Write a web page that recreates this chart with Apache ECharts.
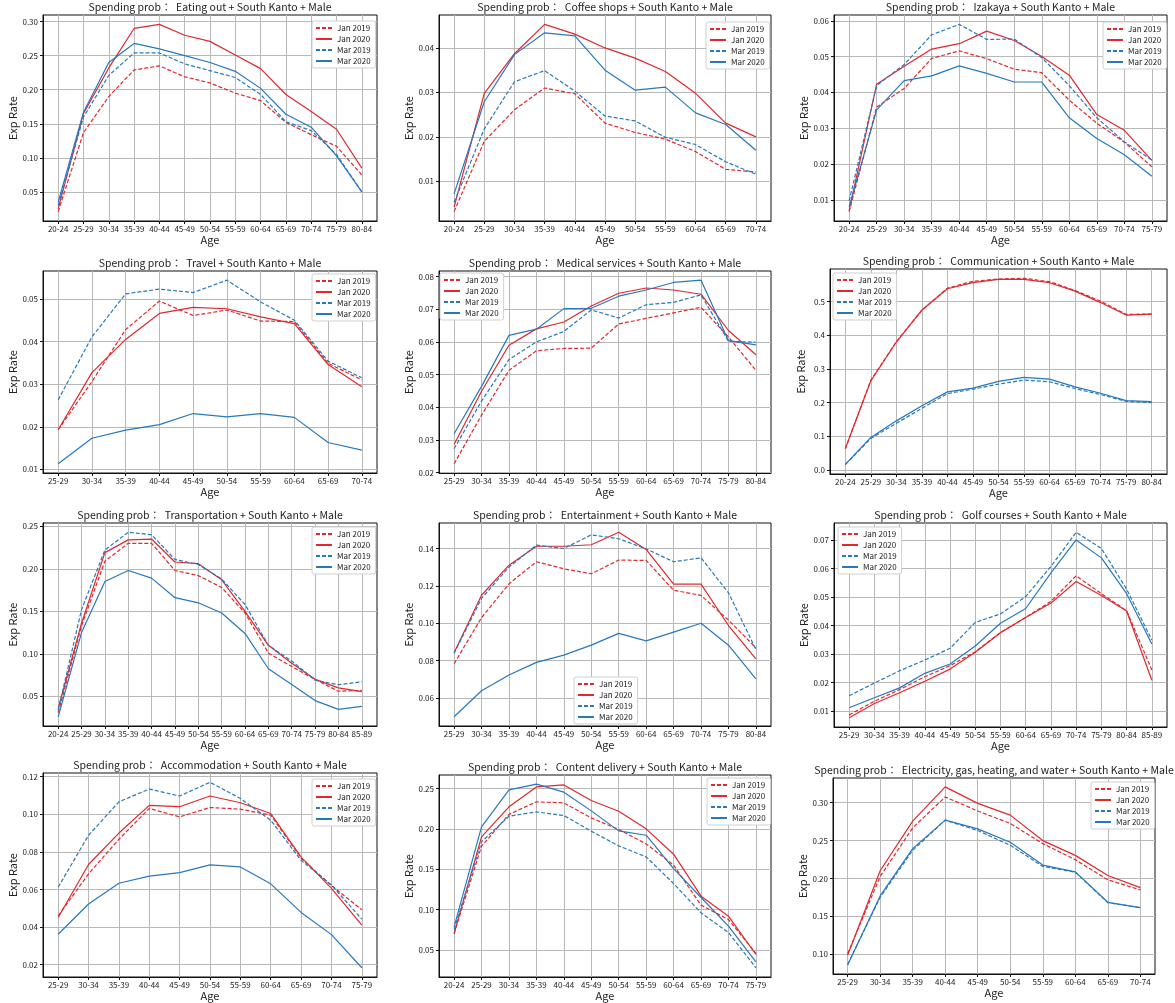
<!DOCTYPE html>
<html>
<head>
<meta charset="utf-8">
<script src="https://cdn.jsdelivr.net/npm/echarts@6/dist/echarts.min.js"></script>
<style>
	html, body { margin: 0; padding: 0; background: #fff; }
	#chart { width: 1175px; height: 1003px; }
</style>
</head>
<body>
<div id="chart"></div>
<script>
// Age groups shown on each panel
const agesEatingOut = ["20-24", "25-29", "30-34", "35-39", "40-44", "45-49", "50-54", "55-59", "60-64", "65-69", "70-74", "75-79", "80-84"];
const agesCoffee = ["20-24", "25-29", "30-34", "35-39", "40-44", "45-49", "50-54", "55-59", "60-64", "65-69", "70-74"];
const agesIzakaya = ["20-24", "25-29", "30-34", "35-39", "40-44", "45-49", "50-54", "55-59", "60-64", "65-69", "70-74", "75-79"];
const agesTravel = ["25-29", "30-34", "35-39", "40-44", "45-49", "50-54", "55-59", "60-64", "65-69", "70-74"];
const agesMedical = ["25-29", "30-34", "35-39", "40-44", "45-49", "50-54", "55-59", "60-64", "65-69", "70-74", "75-79", "80-84"];
const agesComm = ["20-24", "25-29", "30-34", "35-39", "40-44", "45-49", "50-54", "55-59", "60-64", "65-69", "70-74", "75-79", "80-84"];
const agesTransport = ["20-24", "25-29", "30-34", "35-39", "40-44", "45-49", "50-54", "55-59", "60-64", "65-69", "70-74", "75-79", "80-84", "85-89"];
const agesEntertain = ["25-29", "30-34", "35-39", "40-44", "45-49", "50-54", "55-59", "60-64", "65-69", "70-74", "75-79", "80-84"];
const agesGolf = ["25-29", "30-34", "35-39", "40-44", "45-49", "50-54", "55-59", "60-64", "65-69", "70-74", "75-79", "80-84", "85-89"];
const agesAccom = ["25-29", "30-34", "35-39", "40-44", "45-49", "50-54", "55-59", "60-64", "65-69", "70-74", "75-79"];
const agesContent = ["20-24", "25-29", "30-34", "35-39", "40-44", "45-49", "50-54", "55-59", "60-64", "65-69", "70-74", "75-79"];
const agesElec = ["25-29", "30-34", "35-39", "40-44", "45-49", "50-54", "55-59", "60-64", "65-69", "70-74"];

// Eating out
const eatingOutJan2019 = [0.021, 0.137, 0.190, 0.229, 0.235, 0.219, 0.210, 0.195, 0.184, 0.152, 0.134, 0.117, 0.075];
const eatingOutJan2020 = [0.025, 0.165, 0.232, 0.290, 0.296, 0.280, 0.271, 0.251, 0.231, 0.193, 0.168, 0.142, 0.085];
const eatingOutMar2019 = [0.030, 0.160, 0.221, 0.254, 0.254, 0.238, 0.228, 0.218, 0.193, 0.153, 0.140, 0.105, 0.050];
const eatingOutMar2020 = [0.035, 0.167, 0.240, 0.268, 0.260, 0.250, 0.240, 0.227, 0.202, 0.164, 0.145, 0.103, 0.050];
const ticksEatingOut = [0.05, 0.10, 0.15, 0.20, 0.25, 0.30];

// Coffee shops
const coffeeJan2019 = [0.0032, 0.0190, 0.0261, 0.0310, 0.0297, 0.0231, 0.0210, 0.0195, 0.0167, 0.0127, 0.0121];
const coffeeJan2020 = [0.0042, 0.0298, 0.0387, 0.0453, 0.0431, 0.0400, 0.0377, 0.0347, 0.0298, 0.0231, 0.0200];
const coffeeMar2019 = [0.0053, 0.0218, 0.0324, 0.0349, 0.0303, 0.0247, 0.0236, 0.0199, 0.0183, 0.0144, 0.0116];
const coffeeMar2020 = [0.0072, 0.0279, 0.0385, 0.0434, 0.0427, 0.0350, 0.0305, 0.0312, 0.0254, 0.0228, 0.0170];
const ticksCoffee = [0.01, 0.02, 0.03, 0.04];

// Izakaya
const izakayaJan2019 = [0.0067, 0.0359, 0.0411, 0.0495, 0.0516, 0.0494, 0.0465, 0.0455, 0.0378, 0.0314, 0.0261, 0.0192];
const izakayaJan2020 = [0.0070, 0.0423, 0.0473, 0.0521, 0.0536, 0.0571, 0.0545, 0.0500, 0.0448, 0.0338, 0.0294, 0.0210];
const izakayaMar2019 = [0.0097, 0.0419, 0.0478, 0.0561, 0.0590, 0.0548, 0.0549, 0.0497, 0.0419, 0.0329, 0.0262, 0.0211];
const izakayaMar2020 = [0.0080, 0.0351, 0.0433, 0.0446, 0.0474, 0.0453, 0.0429, 0.0429, 0.0329, 0.0271, 0.0226, 0.0166];
const ticksIzakaya = [0.01, 0.02, 0.03, 0.04, 0.05, 0.06];

// Travel
const travelJan2019 = [0.0193, 0.0306, 0.0428, 0.0495, 0.0461, 0.0474, 0.0448, 0.0447, 0.0349, 0.0310];
const travelJan2020 = [0.0193, 0.0327, 0.0405, 0.0466, 0.0480, 0.0477, 0.0458, 0.0442, 0.0346, 0.0294];
const travelMar2019 = [0.0263, 0.0411, 0.0512, 0.0523, 0.0515, 0.0544, 0.0493, 0.0450, 0.0354, 0.0315];
const travelMar2020 = [0.0113, 0.0173, 0.0192, 0.0205, 0.0231, 0.0223, 0.0231, 0.0222, 0.0163, 0.0145];
const ticksTravel = [0.01, 0.02, 0.03, 0.04, 0.05];

// Medical services
const medicalJan2019 = [0.0227, 0.0376, 0.0513, 0.0573, 0.0580, 0.0581, 0.0655, 0.0672, 0.0689, 0.0706, 0.0615, 0.0513];
const medicalJan2020 = [0.0286, 0.0449, 0.0590, 0.0640, 0.0661, 0.0710, 0.0749, 0.0765, 0.0759, 0.0746, 0.0635, 0.0561];
const medicalMar2019 = [0.0273, 0.0419, 0.0546, 0.0600, 0.0632, 0.0698, 0.0673, 0.0714, 0.0721, 0.0744, 0.0602, 0.0599];
const medicalMar2020 = [0.0319, 0.0464, 0.0620, 0.0639, 0.0702, 0.0703, 0.0740, 0.0759, 0.0782, 0.0789, 0.0604, 0.0591];
const ticksMedical = [0.02, 0.03, 0.04, 0.05, 0.06, 0.07, 0.08];

// Communication
const commJan2019 = [0.063, 0.267, 0.381, 0.474, 0.540, 0.560, 0.567, 0.569, 0.559, 0.533, 0.501, 0.462, 0.463];
const commJan2020 = [0.064, 0.265, 0.380, 0.475, 0.538, 0.556, 0.566, 0.566, 0.556, 0.531, 0.497, 0.460, 0.463];
const commMar2019 = [0.016, 0.094, 0.139, 0.183, 0.227, 0.240, 0.255, 0.267, 0.262, 0.242, 0.224, 0.204, 0.200];
const commMar2020 = [0.017, 0.097, 0.146, 0.191, 0.232, 0.243, 0.263, 0.275, 0.270, 0.247, 0.228, 0.206, 0.203];
const ticksComm = [0.0, 0.1, 0.2, 0.3, 0.4, 0.5];

// Transportation
const transportJan2019 = [0.031, 0.133, 0.209, 0.230, 0.230, 0.198, 0.192, 0.178, 0.148, 0.101, 0.085, 0.070, 0.056, 0.057];
const transportJan2020 = [0.0355, 0.136, 0.219, 0.234, 0.235, 0.208, 0.206, 0.187, 0.150, 0.110, 0.089, 0.070, 0.060, 0.0555];
const transportMar2019 = [0.034, 0.152, 0.222, 0.243, 0.240, 0.211, 0.205, 0.188, 0.158, 0.110, 0.0915, 0.069, 0.0637, 0.067];
const transportMar2020 = [0.026, 0.125, 0.185, 0.198, 0.189, 0.166, 0.160, 0.148, 0.124, 0.0825, 0.064, 0.045, 0.0347, 0.0383];
const ticksTransport = [0.05, 0.10, 0.15, 0.20, 0.25];

// Entertainment
const entertainJan2019 = [0.0784, 0.1030, 0.1211, 0.1329, 0.1291, 0.1265, 0.1338, 0.1336, 0.1177, 0.1149, 0.1017, 0.0869];
const entertainJan2020 = [0.0842, 0.1150, 0.1311, 0.1412, 0.1412, 0.1420, 0.1487, 0.1395, 0.1209, 0.1209, 0.0988, 0.0810];
const entertainMar2019 = [0.0839, 0.1133, 0.1300, 0.1418, 0.1400, 0.1473, 0.1452, 0.1398, 0.1329, 0.1350, 0.1163, 0.0860];
const entertainMar2020 = [0.0500, 0.0639, 0.0723, 0.0791, 0.0830, 0.0883, 0.0946, 0.0906, 0.0953, 0.1000, 0.0883, 0.0703];
const ticksEntertain = [0.06, 0.08, 0.10, 0.12, 0.14];

// Golf courses
const golfJan2019 = [0.0086, 0.0134, 0.0175, 0.0220, 0.0259, 0.0308, 0.0376, 0.0429, 0.0485, 0.0575, 0.0512, 0.0452, 0.0244];
const golfJan2020 = [0.0076, 0.0126, 0.0164, 0.0204, 0.0247, 0.0306, 0.0375, 0.0428, 0.0479, 0.0555, 0.0506, 0.0451, 0.0208];
const golfMar2019 = [0.0153, 0.0198, 0.0241, 0.0279, 0.0320, 0.0411, 0.0441, 0.0502, 0.0608, 0.0728, 0.0671, 0.0528, 0.0349];
const golfMar2020 = [0.0111, 0.0146, 0.0181, 0.0232, 0.0265, 0.0328, 0.0408, 0.0460, 0.0585, 0.0701, 0.0638, 0.0512, 0.0335];
const ticksGolf = [0.01, 0.02, 0.03, 0.04, 0.05, 0.06, 0.07];

// Accommodation
const accomJan2019 = [0.0460, 0.0683, 0.0867, 0.1031, 0.0986, 0.1036, 0.1027, 0.0995, 0.0767, 0.0621, 0.0492];
const accomJan2020 = [0.0451, 0.0733, 0.0900, 0.1047, 0.1040, 0.1097, 0.1061, 0.1004, 0.0772, 0.0606, 0.0410];
const accomMar2019 = [0.0612, 0.0888, 0.1066, 0.1134, 0.1097, 0.1170, 0.1084, 0.0968, 0.0755, 0.0624, 0.0442];
const accomMar2020 = [0.0362, 0.0523, 0.0633, 0.0671, 0.0690, 0.0731, 0.0720, 0.0630, 0.0478, 0.0360, 0.0184];
const ticksAccom = [0.02, 0.04, 0.06, 0.08, 0.10, 0.12];

// Content delivery
const contentJan2019 = [0.0702, 0.1785, 0.2180, 0.2335, 0.2322, 0.2136, 0.1992, 0.1814, 0.1550, 0.1054, 0.0876, 0.0455];
const contentJan2020 = [0.0700, 0.1900, 0.2273, 0.2520, 0.2545, 0.2351, 0.2219, 0.2000, 0.1686, 0.1165, 0.0917, 0.0442];
const contentMar2019 = [0.0752, 0.1839, 0.2157, 0.2211, 0.2165, 0.1971, 0.1789, 0.1653, 0.1322, 0.0959, 0.0715, 0.0277];
const contentMar2020 = [0.0785, 0.2025, 0.2483, 0.2554, 0.2455, 0.2223, 0.1975, 0.1921, 0.1508, 0.1149, 0.0793, 0.0351];
const ticksContent = [0.05, 0.10, 0.15, 0.20, 0.25];

// Electricity, gas, heating, and water
const elecJan2019 = [0.1009, 0.2027, 0.2668, 0.3075, 0.2890, 0.2726, 0.2460, 0.2248, 0.1982, 0.1850];
const elecJan2020 = [0.0987, 0.2102, 0.2757, 0.3208, 0.2991, 0.2836, 0.2500, 0.2305, 0.2040, 0.1880];
const elecMar2019 = [0.0867, 0.1752, 0.2372, 0.2770, 0.2633, 0.2438, 0.2159, 0.2084, 0.1681, 0.1615];
const elecMar2020 = [0.0858, 0.1770, 0.2394, 0.2770, 0.2655, 0.2478, 0.2177, 0.2088, 0.1686, 0.1615];
const ticksElec = [0.10, 0.15, 0.20, 0.25, 0.30];

var panels = [
	{ item: "Eating out", ages: agesEatingOut, lines: [eatingOutJan2019, eatingOutJan2020, eatingOutMar2019, eatingOutMar2020], ticks: ticksEatingOut, digits: 2 },
	{ item: "Coffee shops", ages: agesCoffee, lines: [coffeeJan2019, coffeeJan2020, coffeeMar2019, coffeeMar2020], ticks: ticksCoffee, digits: 2 },
	{ item: "Izakaya", ages: agesIzakaya, lines: [izakayaJan2019, izakayaJan2020, izakayaMar2019, izakayaMar2020], ticks: ticksIzakaya, digits: 2 },
	{ item: "Travel", ages: agesTravel, lines: [travelJan2019, travelJan2020, travelMar2019, travelMar2020], ticks: ticksTravel, digits: 2 },
	{ item: "Medical services", ages: agesMedical, lines: [medicalJan2019, medicalJan2020, medicalMar2019, medicalMar2020], ticks: ticksMedical, digits: 2 },
	{ item: "Communication", ages: agesComm, lines: [commJan2019, commJan2020, commMar2019, commMar2020], ticks: ticksComm, digits: 1 },
	{ item: "Transportation", ages: agesTransport, lines: [transportJan2019, transportJan2020, transportMar2019, transportMar2020], ticks: ticksTransport, digits: 2 },
	{ item: "Entertainment", ages: agesEntertain, lines: [entertainJan2019, entertainJan2020, entertainMar2019, entertainMar2020], ticks: ticksEntertain, digits: 2 },
	{ item: "Golf courses", ages: agesGolf, lines: [golfJan2019, golfJan2020, golfMar2019, golfMar2020], ticks: ticksGolf, digits: 2 },
	{ item: "Accommodation", ages: agesAccom, lines: [accomJan2019, accomJan2020, accomMar2019, accomMar2020], ticks: ticksAccom, digits: 2 },
	{ item: "Content delivery", ages: agesContent, lines: [contentJan2019, contentJan2020, contentMar2019, contentMar2020], ticks: ticksContent, digits: 2 },
	{ item: "Electricity, gas, heating, and water", ages: agesElec, lines: [elecJan2019, elecJan2020, elecMar2019, elecMar2020], ticks: ticksElec, digits: 2 },
];

var seriesNames = ["Jan 2019", "Jan 2020", "Mar 2019", "Mar 2020"];
var RED = "#e0282e";
var BLUE = "#2878bd";
var seriesStyles = [
	{ color: RED, type: [4, 2] },
	{ color: RED, type: "solid" },
	{ color: BLUE, type: [4, 2] },
	{ color: BLUE, type: "solid" },
];

// plot boxes [left, top, right, bottom] in px
var boxes = [
	[43, 15, 377, 221], [439, 15, 771, 221], [834, 15, 1167, 221],
	[43, 271, 377, 473], [439, 271, 771, 473], [830, 269, 1167, 474],
	[43, 523, 377, 726], [439, 523, 771, 726], [834, 523, 1167, 727],
	[43, 773, 377, 977], [439, 775, 771, 977], [833, 778, 1155, 974],
];
// legend top-left corners
var legendPos = [
	[312, 21], [706, 22], [1103, 22],
	[312, 274], [440, 273], [833, 273],
	[312, 527], [574, 677], [838, 527],
	[312, 779], [707, 778], [1091, 782],
];

var chartDom = document.getElementById("chart");
var myChart = echarts.init(chartDom);

var grids = [], xAxes = [], yAxes = [], titles = [], legends = [], series = [];

panels.forEach(function (p, i) {
	var b = boxes[i];
	var n = p.ages.length;
	var idx = p.ages.map(function (_, k) { return k; });

	// matplotlib style 5% margins
	var all = [].concat.apply([], p.lines);
	var lo = Math.min.apply(null, all);
	var hi = Math.max.apply(null, all);
	var pad = (hi - lo) * 0.05;

	grids.push({
		left: b[0], top: b[1], width: b[2] - b[0], height: b[3] - b[1],
		show: true, borderColor: "#111", borderWidth: 1,
		containLabel: false, outerBoundsMode: "none",
	});

	xAxes.push({
		type: "value", gridIndex: i,
		min: -0.05 * (n - 1), max: (n - 1) * 1.05,
		name: "Age", nameLocation: "middle", nameGap: 13,
		nameTextStyle: { fontSize: 11, color: "#222" },
		axisLine: { show: true, onZero: false, lineStyle: { color: "#111" } },
		axisTick: { show: true, length: 3, customValues: idx, lineStyle: { color: "#111" } },
		axisLabel: {
			customValues: idx, fontSize: 8, color: "#222", margin: 4,
			formatter: function (v) { return p.ages[Math.round(v)]; },
		},
		splitLine: { show: true, lineStyle: { color: "#b8b8b8", width: 1 } },
	});

	yAxes.push({
		type: "value", gridIndex: i,
		min: lo - pad, max: hi + pad,
		name: "Exp Rate", nameLocation: "middle", nameGap: 24,
		nameTextStyle: { fontSize: 11, color: "#222" },
		axisLine: { show: true, onZero: false, lineStyle: { color: "#111" } },
		axisTick: { show: true, length: 3, customValues: p.ticks, lineStyle: { color: "#111" } },
		axisLabel: {
			customValues: p.ticks, fontSize: 8, color: "#222", margin: 5,
			formatter: function (v) { return v.toFixed(p.digits); },
		},
		splitLine: { show: true, lineStyle: { color: "#b8b8b8", width: 1 } },
	});

	titles.push({
		text: "Spending prob\uff1a  " + p.item + " + South Kanto + Male",
		left: (b[0] + b[2]) / 2, top: b[1] - 13, textAlign: "center",
		padding: 0,
		textStyle: { fontSize: 10.5, fontWeight: "normal", color: "#222" },
	});

	legends.push({
		data: seriesNames, orient: "vertical",
		left: legendPos[i][0], top: legendPos[i][1],
		itemWidth: 16, itemHeight: 8, itemGap: 3,
		padding: [3, 5, 3, 3],
		// hide the round marker, keep only the line sample
		itemStyle: { opacity: 0 },
		backgroundColor: "#fff", borderColor: "#d0d0d0", borderWidth: 1, borderRadius: 2,
		textStyle: { fontSize: 8, color: "#222" },
	});

	p.lines.forEach(function (vals, s) {
		series.push({
			name: seriesNames[s], type: "line",
			xAxisIndex: i, yAxisIndex: i,
			data: vals.map(function (v, k) { return [k, v]; }),
			symbol: "none",
			lineStyle: { color: seriesStyles[s].color, type: seriesStyles[s].type, width: 1.2 },
			itemStyle: { color: seriesStyles[s].color },
		});
	});
});

var option = {
	animation: false,
	textStyle: { fontFamily: "Noto Sans CJK JP" },
	title: titles,
	legend: legends,
	grid: grids,
	xAxis: xAxes,
	yAxis: yAxes,
	series: series,
};

myChart.setOption(option);
</script>
</body>
</html>
